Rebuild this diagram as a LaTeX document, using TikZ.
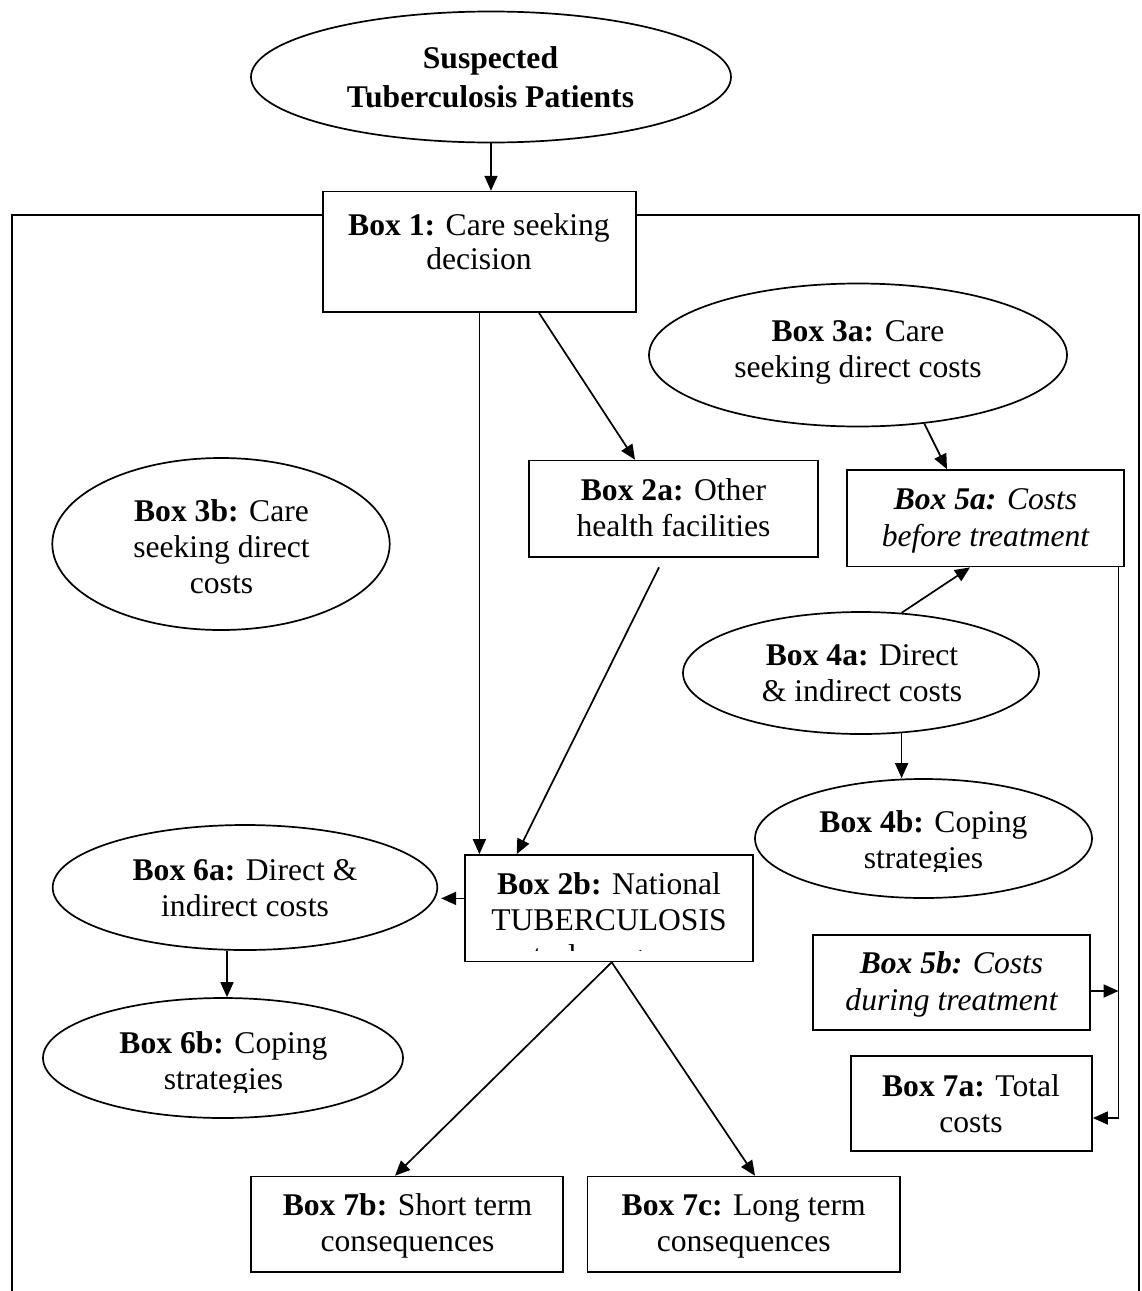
\documentclass[tikz,border=0pt]{standalone}
\usepackage{fontspec}
\setmainfont{Liberation Serif}
\usetikzlibrary{shapes.geometric,arrows.meta}
\newcommand{\mlines}[1]{\begin{tabular}[t]{@{}c@{}}#1\end{tabular}}
\tikzset{
  shp/.style={draw, line width=1.7pt, inner sep=0pt},
  ell/.style={shp, ellipse},
  txt/.style={anchor=base, inner sep=0pt, font=\fontsize{31.6}{36.3}\selectfont},
  conn/.style={line width=1.7pt, -{Triangle[length=15pt,width=13pt]}},
  plain/.style={line width=1.7pt}
}
\begin{document}
\begin{tikzpicture}[x=1pt,y=-1pt]
\useasboundingbox (0,0) rectangle (1142,1291);

% shapes
\node[ell, minimum width=480pt, minimum height=131pt] (top) at (491,77) {};
\node[shp, minimum width=313.3pt, minimum height=120.4pt] (b1) at (479.4,251.8) {};
\node[shp, minimum width=289pt, minimum height=96.4pt] (b2a) at (673.5,508.8) {};
\node[ell, minimum width=418pt, minimum height=143pt] (b3a) at (858,355) {};
\node[shp, minimum width=277pt, minimum height=96.5pt] (b5a) at (985.5,518.3) {};
\node[ell, minimum width=337.4pt, minimum height=172pt] (b3b) at (221,544) {};
\node[ell, minimum width=356pt, minimum height=122pt] (b4a) at (861,673) {};
\node[ell, minimum width=337pt, minimum height=119pt] (b4b) at (923.5,838.5) {};
\node[shp, minimum width=277pt, minimum height=95.3pt] (b5b) at (951.5,982.4) {};
\node[shp, minimum width=241pt, minimum height=95.2pt] (b7a) at (971.5,1103.4) {};
\node[shp, minimum width=288pt, minimum height=106.4pt] (b2b) at (609,908.2) {};
\node[ell, minimum width=384.6pt, minimum height=125pt] (b6a) at (245,887.5) {};
\node[ell, minimum width=360pt, minimum height=120pt] (b6b) at (223,1058) {};
\node[shp, minimum width=312.6pt, minimum height=95.5pt] (b7b) at (407,1224.3) {};
\node[shp, minimum width=312.7pt, minimum height=95.5pt] (b7c) at (743.7,1224.3) {};

% texts
\node[txt] (topt) at (490.5,68) {\mlines{\textbf{Suspected}\\[2.7pt]\textbf{Tuberculosis Patients}}};
\node[txt] (b1t) at (479,235) {\mlines{\textbf{Box 1:} Care seeking\\[-2pt]decision}};
\node[txt] (b2at) at (673.5,500.6) {\mlines{\textbf{Box 2a:} Other\\health facilities}};
\node[txt] (b3at) at (858,341) {\mlines{\textbf{Box 3a:} Care\\seeking direct costs}};
\node[txt] (b5at) at (985.5,509.7) {\mlines{{\itshape\bfseries Box 5a:} {\itshape Costs}\\{\itshape before treatment}}};
\node[txt] (b3bt) at (221.5,521) {\mlines{\textbf{Box 3b:} Care\\seeking direct\\costs}};
\node[txt] (b4at) at (862,665) {\mlines{\textbf{Box 4a:} Direct\\\& indirect costs}};
\begin{scope}
\clip (0,0) rectangle (1142,871);
\node[txt] (b4bt) at (923.5,832.5) {\mlines{\textbf{Box 4b:} Coping\\strategies}};
\end{scope}
\node[txt] (b5bt) at (951.5,973.8) {\mlines{{\itshape\bfseries Box 5b:} {\itshape Costs}\\{\itshape during treatment}}};
\node[txt] (b7at) at (971,1096) {\mlines{\textbf{Box 7a:} Total\\costs}};
\begin{scope}
\clip (0,0) rectangle (1142,950);
\node[txt] (b2bt) at (609,894) {\mlines{\textbf{Box 2b:} National\\TUBERCULOSIS\\control programme}};
\end{scope}
\node[txt] (b6at) at (245,880) {\mlines{\textbf{Box 6a:} Direct \&\\indirect costs}};
\begin{scope}
\clip (0,0) rectangle (1142,1092);
\node[txt] (b6bt) at (223.5,1053) {\mlines{\textbf{Box 6b:} Coping\\strategies}};
\end{scope}
\node[txt] (b7bt) at (407.5,1215.6) {\mlines{\textbf{Box 7b:} Short term\\consequences}};
\node[txt] (b7ct) at (743.7,1215.6) {\mlines{\textbf{Box 7c:} Long term\\consequences}};

% frame
\coordinate (fl) at (11.7,1296);
\coordinate (fr) at (1139.3,1296);
\draw[plain] ([yshift=36.8pt]b1.west) -| (fl);
\draw[plain] ([yshift=36.8pt]b1.east) -| (fr);

% connectors
\draw[conn] (top.south) -- (top.south |- b1.north);
\draw[conn] (b1.south) -- (b1.south |- b2b.north);
\draw[conn] ([xshift=59.6pt]b1.south) -- ([xshift=-38.5pt]b2a.north);
\draw[conn] ([xshift=-14.5pt,yshift=-9.5pt]b2a.south) -- ([xshift=-92.3pt]b2b.north);
\draw[conn] (b3a.-46.3) -- ([xshift=-38.5pt]b5a.north);
\draw[conn] (b4a.56.8) -- ([xshift=-15.5pt]b5a.south);
\draw[conn] (b4a.-56.8) -- (b4a.-56.8 |- b4b.north);
\coordinate (rl) at ([xshift=-6.3pt]b5a.south east);
\draw[conn] (rl) |- ([yshift=-14.6pt]b7a.east);
\coordinate (b5bout) at ([yshift=-8.6pt]b5b.east);
\draw[conn] (b5bout) -- (b5bout -| rl);
\coordinate (b2bw) at ([yshift=9.8pt]b2b.west);
\draw[conn] (b2bw) -- ([xshift=3pt]b2bw -| b6a.east);
\coordinate (b6s) at ([xshift=-18pt]b6a.south);
\draw[conn] (b6s) -- (b6s |- b6b.north);
\draw[conn] ([xshift=2.7pt]b2b.south) -- ([xshift=-12pt]b7b.north);
\draw[conn] ([xshift=2.7pt]b2b.south) -- ([xshift=11.3pt]b7c.north);
\end{tikzpicture}
\end{document}
